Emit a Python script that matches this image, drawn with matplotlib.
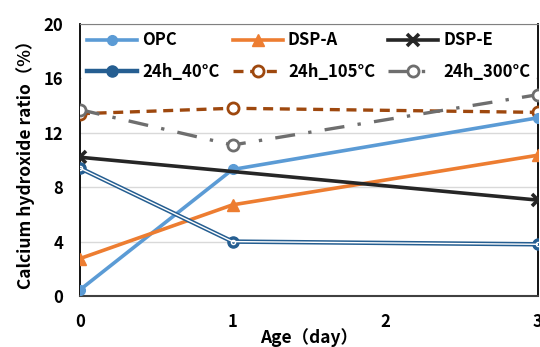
import matplotlib
matplotlib.use("Agg")
import matplotlib.pyplot as plt

plt.rcParams['font.family'] = ['Noto Sans CJK JP', 'DejaVu Sans']
plt.rcParams['font.weight'] = 'bold'
plt.rcParams['axes.labelweight'] = 'bold'

days = [0, 1, 3]
opc = [0.45, 9.3, 13.1]
dsp_a = [2.75, 6.7, 10.35]
dsp_e_days = [0, 3]
dsp_e = [10.2, 7.05]
h40 = [9.4, 4.0, 3.8]
h105 = [13.4, 13.8, 13.5]
h300 = [13.7, 11.1, 14.8]

fig = plt.figure(figsize=(5.4, 3.47), dpi=100)
ax = fig.add_axes([0.148, 0.147, 0.848, 0.784])

p_opc, = ax.plot(days, opc, color='#5B9BD5', lw=2.6, marker='o', ms=7, label='OPC', zorder=5)
p_a, = ax.plot(days, dsp_a, color='#ED7D31', lw=2.6, marker='^', ms=8, label='DSP-A', zorder=5)
p_e, = ax.plot(dsp_e_days, dsp_e, color='#262626', lw=2.6, marker='x', ms=9, mew=2.6,
               label='DSP-E', zorder=5)

# double line for 24h_40°C
p40, = ax.plot(days, h40, color='#255E91', lw=3.2, marker='o', ms=8,
               mfc='#255E91', mec='#255E91', label='24h_40°C', zorder=6)
ax.plot(days, h40, color='white', lw=1.0, zorder=6)
ax.plot(days, h40, ls='none', marker='o', ms=3, mfc='none', mec='white', mew=1.0, zorder=7)

p105, = ax.plot(days, h105, color='#9E480E', lw=2.4, ls=(0, (3, 2)), marker='o', ms=8,
                mfc='white', mec='#9E480E', mew=2, label='24h_105°C', zorder=4)
p300, = ax.plot(days, h300, color='#6E6E6E', lw=2.4, ls=(0, (6, 4, 1, 4)), marker='o', ms=8,
                mfc='white', mec='#6E6E6E', mew=2, label='24h_300°C', zorder=4)

ax.set_xlim(0, 3)
ax.set_ylim(0, 20)
ax.set_xticks([0, 1, 2, 3])
ax.set_yticks([0, 4, 8, 12, 16, 20])
ax.tick_params(length=0, labelsize=12, pad=12)
for t in ax.get_xticklabels() + ax.get_yticklabels():
    t.set_fontweight('bold')
ax.yaxis.grid(True, color='#D9D9D9', lw=1)
ax.set_axisbelow(True)
for s in ['left', 'right']:
    ax.spines[s].set_color('#000000')
    ax.spines[s].set_linewidth(1.3)
ax.spines['bottom'].set_color('#404040')
ax.spines['bottom'].set_linewidth(1.5)
ax.spines['top'].set_color('#808080')

ax.set_xlabel('Age（day）', fontsize=12.5, fontweight='bold', labelpad=-2)
ax.set_ylabel('Calcium hydroxide ratio（%）', fontsize=12.5, fontweight='bold', labelpad=6)

# matplotlib fills legend columns first: order so rows read across
handles = [p_opc, p40, p_a, p105, p_e, p300]
leg = ax.legend(handles=handles, labels=[h.get_label() for h in handles],
                loc='upper left', bbox_to_anchor=(0.0, 1.0, 1.0, 0.0), mode='expand',
                ncol=3, prop={'size': 12, 'weight': 'bold'}, frameon=True, fancybox=False,
                framealpha=1, edgecolor='none', facecolor='white', handlelength=3.0,
                borderpad=0.35, labelspacing=0.8, handletextpad=0.3, borderaxespad=0.1)
leg.set_zorder(10)

fig.savefig('out.png', dpi=100)
